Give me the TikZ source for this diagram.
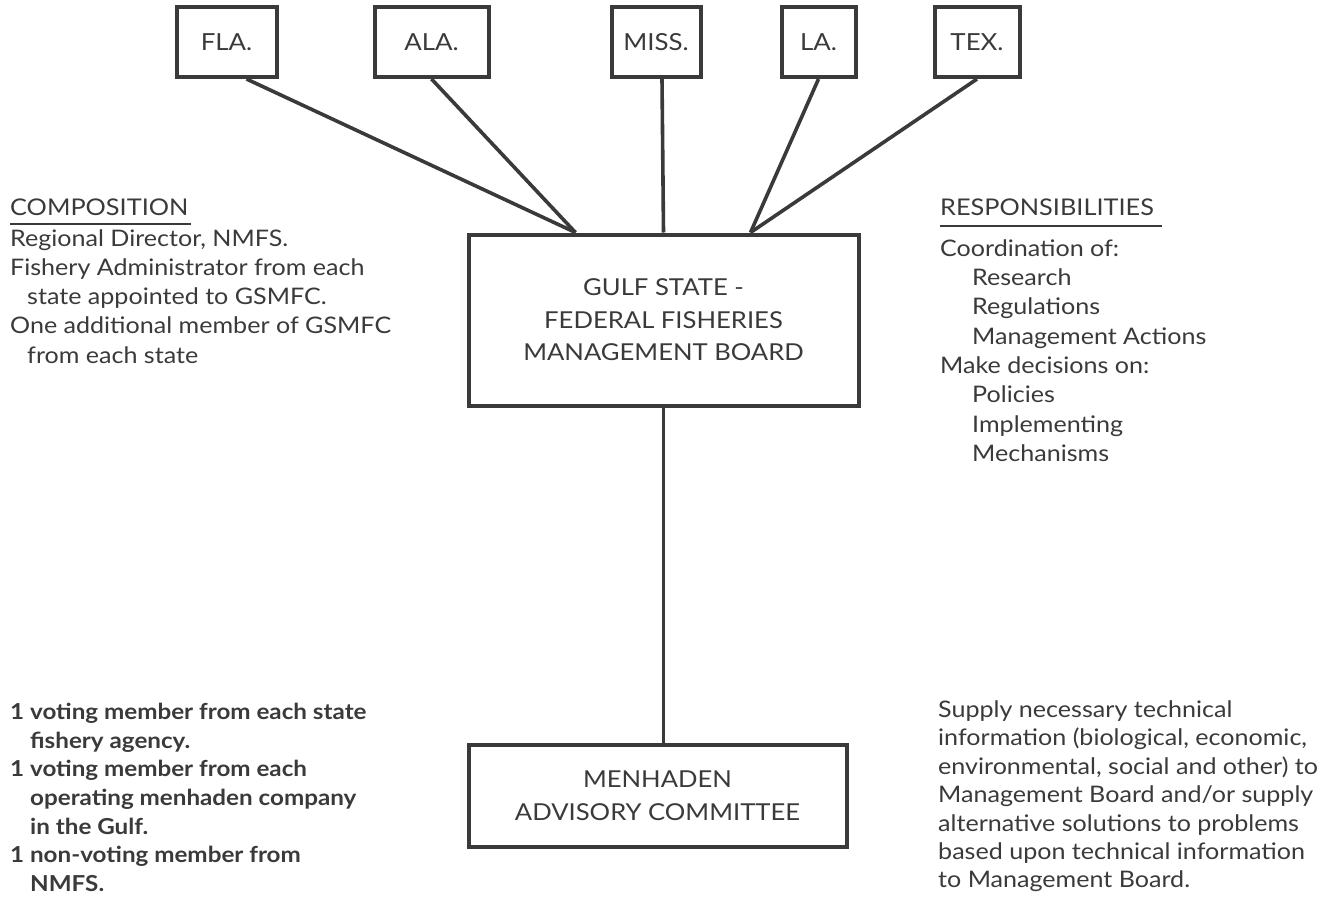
\documentclass[tikz,border=0pt]{standalone}
\usepackage{fontspec}
\setmainfont{Lato}[FakeStretch=1.1]
\definecolor{ink}{HTML}{3A3A3A}
\begin{document}
\begin{tikzpicture}[x=1pt,y=-1pt,
  every node/.style={text=ink},
  box/.style={draw=ink,line width=4pt,inner sep=0pt,align=center},
  statebox/.style={box,minimum height=70,font=\fontsize{23.5}{26}\selectfont},
  bigbox/.style={box,font=\fontsize{23.3}{32.5}\selectfont},
  conn/.style={draw=ink,line width=3.6pt},
  sidetxt/.style={anchor=base west,inner sep=0pt,font=\fontsize{22.8}{26}\selectfont},
  headtxt/.style={anchor=base west,inner sep=0pt,font=\fontsize{23}{26}\selectfont},
  boldtxt/.style={sidetxt,font=\fontsize{22}{26}\selectfont\bfseries},
  uline/.style={draw=ink,line width=1.3pt}]
\useasboundingbox (0,0) rectangle (1334,900);
% state boxes
\node[statebox,minimum width=100] (fla)  at (226.5,42) {FLA.};
\node[statebox,minimum width=114] (ala)  at (431.5,42) {ALA.};
\node[statebox,minimum width=89]  (miss) at (656,42)   {MISS.};
\node[statebox,minimum width=74]  (la)   at (818.5,42) {LA.};
\node[statebox,minimum width=85]  (tex)  at (977,42)   {TEX.};
% board
\node[bigbox,minimum width=390,minimum height=171] (board) at (663.5,320)
  {GULF STATE -\\FEDERAL FISHERIES\\MANAGEMENT BOARD};
\node[bigbox,minimum width=378,minimum height=102] (men) at (657.5,795.5)
  {MENHADEN\\ADVISORY COMMITTEE};
% connectors
\draw[conn] ([xshift=20]fla.south) -- ([xshift=-88]board.north);
\draw[conn] (ala.south) -- ([xshift=-88]board.north);
\draw[conn] ([xshift=6]miss.south) -- ([xshift=0]board.north);
\draw[conn] (la.south) -- ([xshift=87]board.north);
\draw[conn] (tex.south) -- ([xshift=87]board.north);
\draw[conn] (board.south) -- (board.south |- men.north);
% composition
\node[headtxt] (comph) at (10,215) {COMPOSITION};
\draw[uline] ([yshift=-9]comph.base west) -- ([yshift=-9,xshift=2]comph.base east);
\foreach \dx/\t [count=\i] in {0/{Regional Director, NMFS.},0/{Fishery Administrator from each},17/{state appointed to GSMFC.},0/{One additional member of GSMFC},17/{from each state}}
  \node[sidetxt] (comp\i) at (10+\dx,217+29.2*\i) {\t};
% responsibilities
\node[headtxt] (resph) at (940,215) {RESPONSIBILITIES};
\draw[uline] ([yshift=-11]resph.base west) -- ([yshift=-11,xshift=8]resph.base east);
\foreach \dx/\t [count=\i] in {0/{Coordination of:},32/{Research},32/{Regulations},32/{Management Actions},0/{Make decisions on:},32/{Policies},32/{Implementing},32/{Mechanisms}}
  \node[sidetxt] (resp\i) at (940+\dx,227+29.3*\i) {\t};
% menhaden composition
\foreach \dx/\t [count=\i] in {0/{1 voting member from each state},20/{fishery agency.},0/{1 voting member from each},20/{operating menhaden company},20/{in the Gulf.},0/{1 non-voting member from},20/{NMFS.}}
  \node[boldtxt] (mc\i) at (10+\dx,691+28.6*\i) {\t};
% menhaden duties
\foreach \t [count=\i] in {{Supply necessary technical},{information (biological, economic,},{environmental, social and other) to},{Management Board and/or supply},{alternative solutions to problems},{based upon technical information},{to Management Board.}}
  \node[sidetxt] (md\i) at (938,689+28.4*\i) {\t};
\end{tikzpicture}
\end{document}
